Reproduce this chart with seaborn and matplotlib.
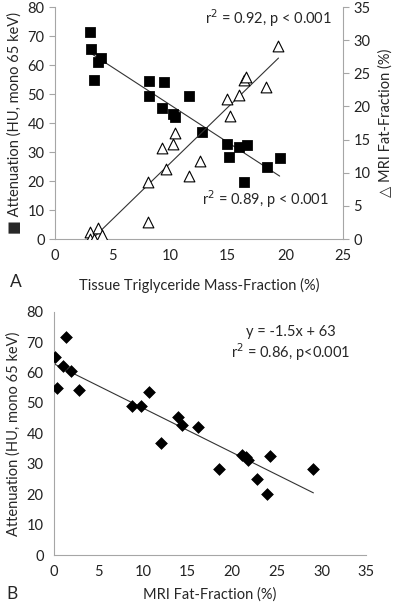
import numpy as np
import pandas as pd
import seaborn as sns
import matplotlib.pyplot as plt

# Panel A: attenuation (squares) and MRI fat-fraction (triangles) vs tissue triglyceride
tg_att = [3.0, 3.1, 3.4, 3.7, 4.0, 8.2, 8.2, 9.5, 9.3, 10.2, 10.4, 11.6, 12.8,
          14.9, 15.1, 16.0, 16.7, 16.4, 18.4, 19.5]
attenuation = [71.5, 65.5, 55.0, 61.0, 62.5, 54.5, 49.3, 54.0, 45.3, 43.0, 42.0, 49.3, 37.0,
               32.8, 28.2, 31.6, 32.5, 19.8, 25.0, 28.0]

tg_ff = [3.0, 3.0, 3.4, 3.7, 4.1, 8.1, 8.1, 9.3, 9.6, 10.2, 10.4, 11.6, 12.6,
         14.9, 15.2, 16.0, 16.4, 16.6, 18.3, 19.4]
mri_ff = [1.0, 0.0, 0.0, 1.6, 0.6, 8.6, 2.6, 13.8, 10.5, 14.3, 16.0, 9.5, 11.8,
          21.1, 18.6, 21.7, 24.0, 24.4, 22.9, 29.1]

# Panel B: attenuation vs MRI fat-fraction
ff_b = [0.1, 0.3, 1.05, 1.3, 1.9, 2.8, 8.8, 9.75, 10.65, 11.95, 13.95, 14.4, 16.1,
        18.55, 21.1, 21.5, 21.8, 24.25, 22.8, 23.95, 29.1]
att_b = [65.2, 54.8, 62.3, 71.6, 60.5, 54.3, 49.0, 49.0, 53.7, 36.9, 45.3, 42.8, 42.0,
         28.2, 32.9, 32.1, 31.25, 32.6, 25.0, 20.0, 28.2]

dfa = pd.DataFrame({'tg': tg_att, 'att': attenuation})
dff = pd.DataFrame({'tg': tg_ff, 'ff': mri_ff})
dfb = pd.DataFrame({'ff': ff_b, 'att': att_b})

sns.set_style("white")
plt.rcParams['font.family'] = ['Lato', 'DejaVu Sans']
grey = '#a6a6a6'

fig = plt.figure(figsize=(4.0, 6.04), dpi=100)


def style_axis(ax, right=False):
    for s in ['top', 'right', 'left', 'bottom']:
        ax.spines[s].set_visible(False)
    ax.spines['bottom'].set_visible(True)
    ax.spines['bottom'].set_color(grey)
    side = 'right' if right else 'left'
    ax.spines[side].set_visible(True)
    ax.spines[side].set_color(grey)
    ax.tick_params(axis='both', direction='out', length=4, color=grey,
                   labelsize=10.5, labelcolor='#222222', width=0.8)
    ax.tick_params(axis='x', direction='in', length=3, pad=7)


# ---- Panel A ----
axA = fig.add_axes([0.1375, 0.6043, 0.72, 0.3841])
sns.regplot(data=dfa, x='tg', y='att', ax=axA, scatter=False, ci=None,
            line_kws={'color': '#333333', 'lw': 0.8})
sns.scatterplot(data=dfa, x='tg', y='att', ax=axA, marker='s', s=48,
                color='black', edgecolor='black', zorder=3)
axA.set_xlim(0, 25)
axA.set_ylim(0, 80)
axA.set_xticks(range(0, 26, 5))
axA.set_yticks(range(0, 81, 10))
axA.set_xlabel('Tissue Triglyceride Mass-Fraction (%)', fontsize=10.5, labelpad=11)
axA.set_ylabel('\u25A0 Attenuation (HU, mono 65 keV)', fontsize=10.5, labelpad=4)
style_axis(axA)

axA2 = axA.twinx()
sns.regplot(data=dff, x='tg', y='ff', ax=axA2, scatter=False, ci=None,
            line_kws={'color': '#333333', 'lw': 0.8})
sns.scatterplot(data=dff, x='tg', y='ff', ax=axA2, marker='^', s=60,
                facecolor='white', edgecolor='black', linewidth=0.8, zorder=3)
axA2.set_ylim(0, 35)
axA2.set_yticks(range(0, 36, 5))
axA2.set_ylabel('\u25B3 MRI Fat-Fraction (%)', fontsize=10.5, labelpad=6)
axA2.yaxis.set_label_position('right')
style_axis(axA2, right=True)
axA2.spines['bottom'].set_visible(False)

axA.text(0.96, 0.95, 'r$^2$ = 0.92, p < 0.001', transform=axA.transAxes,
         ha='right', va='center', fontsize=10.5)
axA.text(0.95, 0.17, 'r$^2$ = 0.89, p < 0.001', transform=axA.transAxes,
         ha='right', va='center', fontsize=10.5)
fig.text(0.025, 1 - 282 / 604, 'A', fontsize=12.5, va='center')

# ---- Panel B ----
axB = fig.add_axes([0.135, 0.0811, 0.78, 0.4028])
sns.regplot(data=dfb, x='ff', y='att', ax=axB, scatter=False, ci=None,
            line_kws={'color': '#333333', 'lw': 0.8})
sns.scatterplot(data=dfb, x='ff', y='att', ax=axB, marker='D', s=36,
                color='black', edgecolor='black', zorder=3)
axB.set_xlim(0, 35)
axB.set_ylim(0, 80)
axB.set_xticks(range(0, 36, 5))
axB.set_yticks(range(0, 81, 10))
axB.set_xlabel('MRI Fat-Fraction (%)', fontsize=10.5, labelpad=6)
axB.set_ylabel('Attenuation (HU, mono 65 keV)', fontsize=10.5, labelpad=4)
style_axis(axB)
axB.text(0.76, 0.915, 'y = -1.5x + 63', transform=axB.transAxes,
         ha='center', va='center', fontsize=10.5)
axB.text(0.76, 0.835, 'r$^2$ = 0.86, p<0.001', transform=axB.transAxes,
         ha='center', va='center', fontsize=10.5)
fig.text(0.015, 1 - 594 / 604, 'B', fontsize=12.5, va='center')

fig.savefig('out.png', dpi=100)
